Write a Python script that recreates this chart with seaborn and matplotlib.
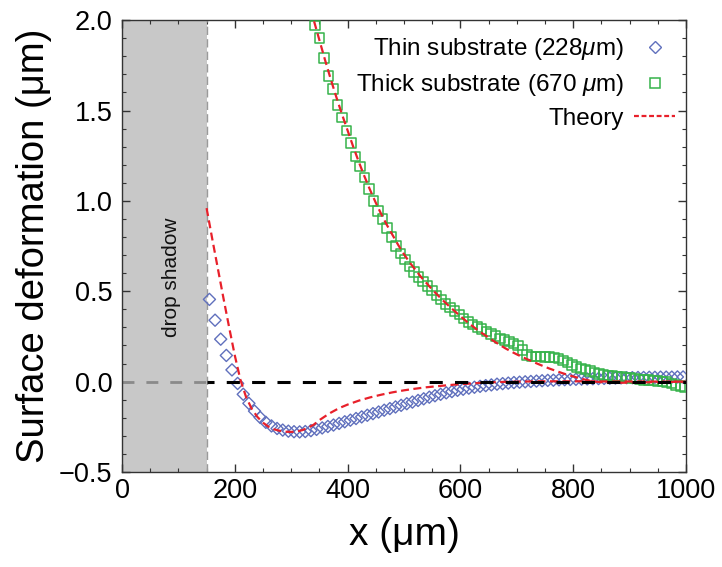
import numpy as np
import pandas as pd
import matplotlib
matplotlib.use("Agg")
import matplotlib.pyplot as plt
from matplotlib.lines import Line2D
from matplotlib.ticker import MultipleLocator
import seaborn as sns

# ---------------- data ----------------
thin_x = [155, 165, 175, 185, 195, 205, 215, 225, 235, 245, 255, 265, 275, 285, 295,
          305, 315, 325, 335, 345, 355, 365, 375, 385, 395, 405, 415, 425, 435, 445,
          455, 465, 475, 485, 495, 505, 515, 525, 535, 545, 555, 565, 575, 585, 595,
          605, 615, 625, 635, 645, 655, 665, 675, 685, 695, 705, 715, 725, 735, 745,
          755, 765, 775, 785, 795, 805, 815, 825, 835, 845, 855, 865, 875, 885, 895,
          905, 915, 925, 935, 945, 955, 965, 975, 985, 995]
thin_y = [0.455, 0.34, 0.235, 0.145, 0.065, -0.01, -0.07, -0.12, -0.163, -0.198,
          -0.225, -0.245, -0.259, -0.268, -0.274, -0.277, -0.278, -0.276, -0.271, -0.264,
          -0.256, -0.248, -0.24, -0.231, -0.222, -0.213, -0.204, -0.195, -0.186, -0.177,
          -0.168, -0.158, -0.149, -0.14, -0.131, -0.122, -0.113, -0.104, -0.095, -0.086,
          -0.078, -0.07, -0.062, -0.055, -0.048, -0.042, -0.036, -0.031, -0.026, -0.022,
          -0.018, -0.014, -0.011, -0.008, -0.005, -0.003, -0.001, 0.001, 0.003, 0.005,
          0.007, 0.008, 0.010, 0.011, 0.012, 0.013, 0.014, 0.015, 0.016, 0.017,
          0.018, 0.019, 0.020, 0.021, 0.022, 0.022, 0.023, 0.023, 0.024, 0.024,
          0.025, 0.025, 0.025, 0.026, 0.026]

thick_x = [342, 350, 358, 366, 374, 382, 390, 398, 406, 414, 422, 430, 438, 446, 454,
           462, 470, 478, 486, 494, 502, 510, 518, 526, 534, 542, 550, 558, 566, 574,
           582, 590, 598, 606, 614, 622, 630, 638, 646, 654, 662, 670, 678, 686, 694,
           702, 710, 718, 726, 734, 742, 750, 758, 766, 774, 782, 790, 798, 806, 814,
           822, 830, 838, 846, 854, 862, 870, 878, 886, 894, 902, 910, 918, 926, 934,
           942, 950, 958, 966, 974, 982, 990, 998]
thick_y = [1.97, 1.90, 1.79, 1.69, 1.62, 1.53, 1.46, 1.39, 1.32, 1.245, 1.19, 1.13, 1.065,
           1.0, 0.945, 0.9, 0.85, 0.8, 0.75, 0.71, 0.675, 0.637, 0.607, 0.578, 0.553,
           0.528, 0.503, 0.478, 0.454, 0.43, 0.41, 0.39, 0.372, 0.35, 0.331, 0.315, 0.302,
           0.292, 0.278, 0.264, 0.252, 0.24, 0.23, 0.221, 0.21, 0.2, 0.175, 0.148, 0.14,
           0.139, 0.138, 0.137, 0.136, 0.133, 0.128, 0.118, 0.105, 0.092, 0.082, 0.074,
           0.066, 0.058, 0.05, 0.043, 0.037, 0.034, 0.032, 0.03, 0.027, 0.024, 0.021,
           0.017, 0.013, 0.01, 0.008, 0.006, 0.004, 0.002, -0.002, -0.01, -0.018, -0.025,
           -0.03]

theory_thin_x = [150, 160, 170, 180, 190, 200, 210, 220, 230, 240, 250, 260, 270, 280,
                 290, 300, 310, 320, 330, 340, 350, 360, 370, 380, 390, 400, 420, 440,
                 460, 480, 500, 520, 540, 560, 580, 600, 620, 640, 660, 680, 700, 740,
                 780, 820, 860, 900, 1000]
theory_thin_y = [0.96, 0.79, 0.625, 0.46, 0.30, 0.145, 0.01, -0.085, -0.15, -0.195,
                 -0.227, -0.25, -0.264, -0.272, -0.277, -0.278, -0.276, -0.268, -0.255,
                 -0.238, -0.213, -0.192, -0.172, -0.155, -0.14, -0.127, -0.105, -0.087,
                 -0.072, -0.059, -0.048, -0.039, -0.031, -0.025, -0.019, -0.014, -0.01,
                 -0.006, -0.003, -0.001, 0.0, 0.002, 0.002, 0.002, 0.001, 0.001, 0.0]

theory_thick_x = [335, 340, 350, 360, 370, 380, 390, 400, 410, 420, 430, 440, 450, 460,
                  470, 480, 490, 500, 510, 520, 530, 540, 550, 560, 570, 580, 590, 600,
                  610, 620, 630, 640, 650, 660, 670, 680, 690, 700, 710, 720, 730, 740,
                  750, 760, 770, 780, 790, 800, 810, 820, 830, 840, 850, 860, 870, 880,
                  890, 900, 920, 940, 960, 980, 1000]
theory_thick_y = [2.06, 2.0, 1.89, 1.78, 1.675, 1.575, 1.48, 1.39, 1.30, 1.215, 1.135,
                  1.06, 0.99, 0.925, 0.865, 0.81, 0.755, 0.705, 0.66, 0.62, 0.58, 0.545,
                  0.51, 0.478, 0.447, 0.418, 0.39, 0.362, 0.336, 0.311, 0.287, 0.265,
                  0.244, 0.223, 0.203, 0.184, 0.167, 0.151, 0.136, 0.122, 0.108, 0.095,
                  0.082, 0.07, 0.059, 0.048, 0.038, 0.029, 0.02, 0.012, 0.005, 0.0,
                  -0.003, -0.005, -0.006, -0.006, -0.006, -0.005, -0.004, -0.003, -0.002,
                  -0.001, 0.0]

shadow_edge = 150
labels = ["Thin substrate (228$\\mu$m)", "Thick substrate (670 $\\mu$m)", "Theory"]

# ---------------- style ----------------
sns.set_style("ticks")
plt.rcParams["font.family"] = ["Liberation Sans", "DejaVu Sans"]
plt.rcParams["mathtext.fontset"] = "custom"
plt.rcParams["mathtext.rm"] = "Liberation Sans"
plt.rcParams["mathtext.it"] = "Liberation Sans:italic"
plt.rcParams["text.color"] = "black"
plt.rcParams["axes.labelcolor"] = "black"
plt.rcParams["xtick.labelcolor"] = "black"
plt.rcParams["ytick.labelcolor"] = "black"

c_thin = "#6070bd"
c_thick = "#35b34a"
c_theory = "#e8202a"

fig = plt.figure(figsize=(7.22, 5.67), dpi=100)
ax = fig.add_axes([0.169, 0.1675, 0.781, 0.797])

# drop shadow region
ax.axvspan(0, shadow_edge, color="#c8c8c8", zorder=0, lw=0)
ax.axvline(shadow_edge, color="#9a9a9a", lw=1.0, ls=(0, (6, 3)), zorder=1)
ax.text(88, 0.58, "drop shadow", rotation=90, ha="center", va="center",
        fontsize=15, color="#111111")

thin_df = pd.DataFrame({"x": thin_x, "y": thin_y})
thick_df = pd.DataFrame({"x": thick_x, "y": thick_y})
th1 = pd.DataFrame({"x": theory_thin_x, "y": theory_thin_y})
th2 = pd.DataFrame({"x": theory_thick_x, "y": theory_thick_y})

sns.scatterplot(data=thin_df, x="x", y="y", ax=ax, marker="D", s=38,
                facecolors="none", edgecolors=c_thin, linewidth=1.0, zorder=3)
ax.collections[-1].set_facecolor("none")
sns.scatterplot(data=thick_df, x="x", y="y", ax=ax, marker="s", s=46,
                facecolors="none", edgecolors=c_thick, linewidth=1.1, zorder=3)
ax.collections[-1].set_facecolor("none")

for df in (th1, th2):
    sns.lineplot(data=df, x="x", y="y", ax=ax, color=c_theory, lw=1.6,
                 linestyle=(0, (3.6, 2.0)), sort=False, estimator=None, zorder=4)

# zero line: grey inside the shadow, black outside
zx1 = [0, shadow_edge]
zx2 = [shadow_edge, 1000]
ax.plot(zx1, [0, 0], color="#8a8a8a", lw=2.0, ls=(0, (4.3, 4.3)), zorder=2)
ax.plot(zx2, [0, 0], color="black", lw=2.2, ls=(2, (4.3, 4.0)), zorder=5)

ax.set_xlim(0, 1000)
ax.set_ylim(-0.5, 2.0)
ax.xaxis.set_major_locator(MultipleLocator(200))
ax.xaxis.set_minor_locator(MultipleLocator(50))
ax.yaxis.set_major_locator(MultipleLocator(0.5))
ax.yaxis.set_minor_locator(MultipleLocator(0.1))
ax.tick_params(which="both", direction="in", top=True, right=True, color="#333333")
ax.tick_params(which="major", length=6, width=1.0, labelsize=19.5, pad=4)
ax.tick_params(which="minor", length=3, width=0.8)
ax.tick_params(axis="y", which="major", pad=7)
for sp in ax.spines.values():
    sp.set_color("#333333")
    sp.set_linewidth(1.0)

ax.set_xlabel("x (μm)", fontsize=28, labelpad=10)
ax.set_ylabel("Surface deformation (μm)", fontsize=27.5, labelpad=5)

handles = [
    Line2D([], [], ls="none", marker="D", ms=6, mfc="none", mec=c_thin, mew=1.0),
    Line2D([], [], ls="none", marker="s", ms=6.5, mfc="none", mec=c_thick, mew=1.1),
    Line2D([], [], color=c_theory, lw=1.6, ls=(0, (2.2, 1.2))),
]
ax.legend(handles, labels, loc="upper right", bbox_to_anchor=(0.99, 0.975),
          frameon=False, markerfirst=False, fontsize=17.5, handlelength=1.7,
          handletextpad=0.4, labelspacing=0.4, borderaxespad=0, borderpad=0.2)

fig.savefig("out.png", dpi=100)
